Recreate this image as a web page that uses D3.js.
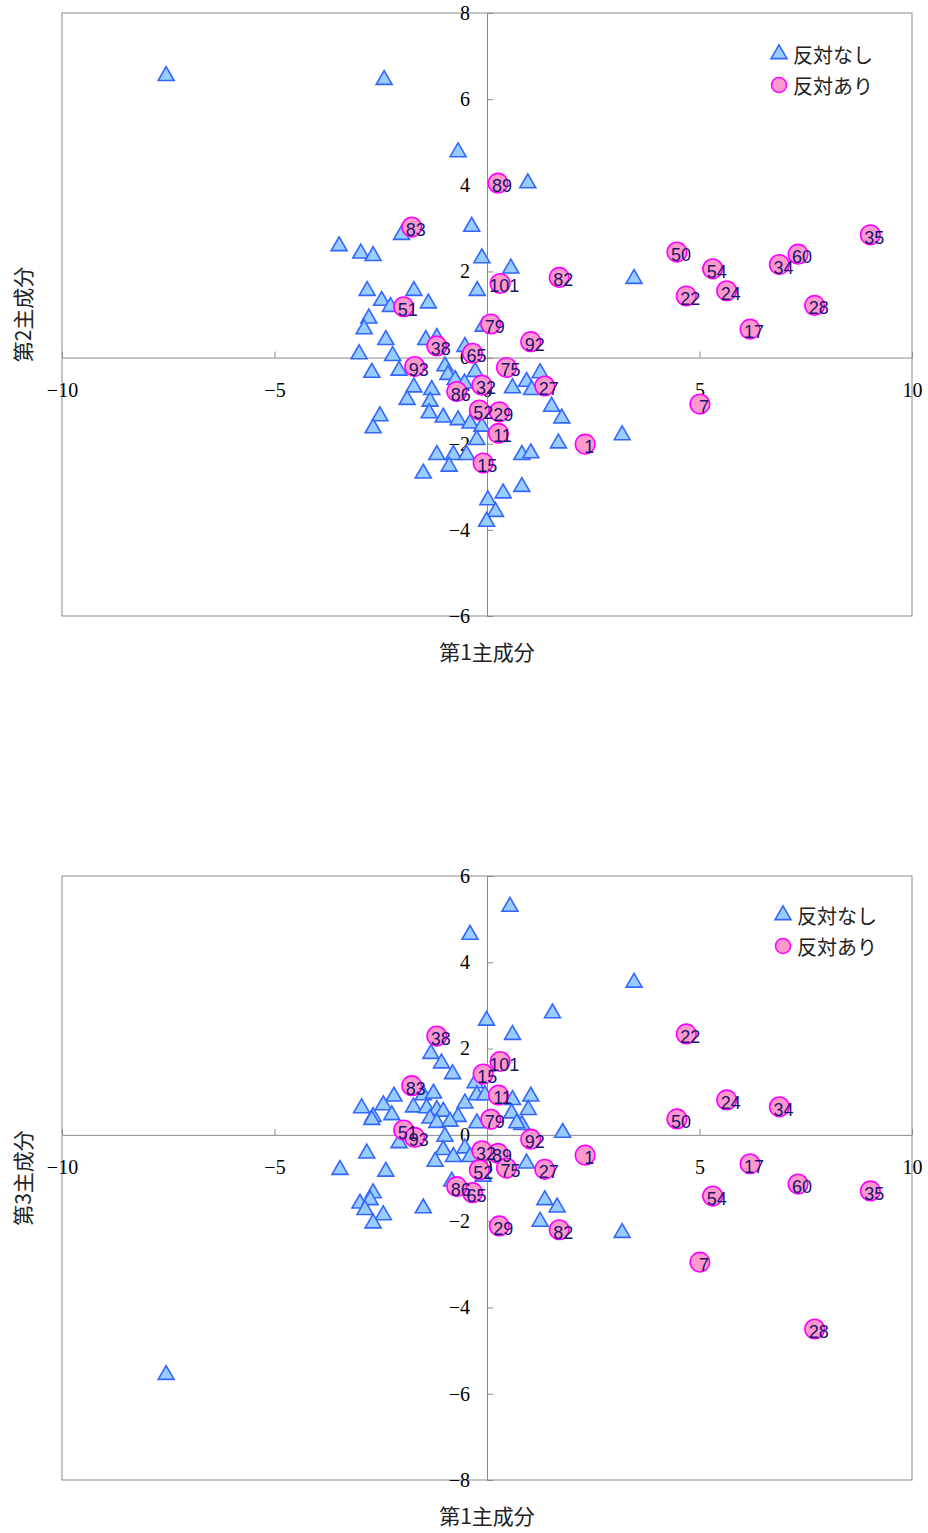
<!DOCTYPE html>
<html>
<head>
<meta charset="utf-8">
<script src="https://cdn.jsdelivr.net/npm/d3@7"></script>
<style>
  body { margin: 0; background: #fff; }
  .tick text { font-family: "Liberation Serif", "DejaVu Serif", serif; font-size: 20px; fill: #000; }
  .title { font-family: "Noto Sans CJK JP", sans-serif; font-size: 21px; fill: #222; }
  .lab { font-family: "Liberation Sans", "Noto Sans", sans-serif; font-size: 18px; fill: #15156e; }
  .leg { font-family: "Noto Sans CJK JP", sans-serif; font-size: 20px; fill: #222; }
</style>
</head>
<body>
<div id="chart"></div>
<script>
// circle points (反対あり), labelled
const ids = ["89","83","101","82","51","79","92","38","65","93","75","27","32","86","52","29","11","15","1","50","54","22","24","34","60","35","28","17","7"];
const pc1 = [0.26,-1.77,0.31,1.70,-1.96,0.09,1.03,-1.18,-0.34,-1.70,0.46,1.36,-0.12,-0.71,-0.18,0.29,0.27,-0.09,2.31,4.47,5.31,4.69,5.64,6.88,7.32,9.02,7.71,6.19,5.01];
const pc2 = [4.05,3.03,1.72,1.86,1.18,0.78,0.37,0.27,0.10,-0.21,-0.23,-0.66,-0.64,-0.79,-1.22,-1.26,-1.76,-2.45,-2.01,2.45,2.06,1.43,1.55,2.16,2.40,2.85,1.21,0.66,-1.08];
const pc3 = [-0.43,1.14,1.70,-2.20,0.11,0.36,-0.10,2.29,-1.34,-0.06,-0.77,-0.80,-0.37,-1.20,-0.81,-2.11,0.92,1.41,-0.47,0.37,-1.42,2.34,0.81,0.65,-1.14,-1.30,-4.50,-0.67,-2.95];

// triangle points (反対なし), PC1 vs PC2
const triX12 = [-7.55,-2.42,-0.68,0.96,3.46,-0.36,-2.01,-3.48,-2.97,-2.68,-0.12,0.56,-2.82,-1.72,-0.23,-2.48,-2.27,-1.38,-2.78,-2.89,-2.38,-1.44,-1.18,-0.52,-0.09,-3.01,-2.22,-2.71,-2.07,-0.99,-0.92,-0.75,-0.28,-1.72,-1.30,-1.88,-1.34,-0.53,0.60,0.93,1.25,1.05,-1.36,-1.03,-0.68,-0.40,-0.12,-2.52,-2.68,-0.24,1.52,1.76,1.68,-1.18,-0.79,-0.89,-0.48,-1.50,0.82,1.03,0.38,0.82,0.02,0.20,-0.01,3.18];
const triY12 = [6.54,6.45,4.77,4.05,1.83,3.04,2.85,2.59,2.42,2.36,2.31,2.07,1.55,1.55,1.55,1.32,1.18,1.26,0.91,0.66,0.41,0.41,0.46,0.25,0.72,0.08,0.04,-0.35,-0.30,-0.20,-0.40,-0.52,-0.33,-0.69,-0.75,-0.98,-1.02,-0.60,-0.71,-0.56,-0.36,-0.75,-1.29,-1.39,-1.45,-1.53,-1.60,-1.36,-1.64,-1.91,-1.14,-1.41,-1.99,-2.26,-2.26,-2.53,-2.26,-2.69,-2.26,-2.22,-3.15,-3.00,-3.31,-3.58,-3.81,-1.80];

// triangle points (反対なし), PC1 vs PC3
const triX13 = [-7.55,0.54,-0.40,3.46,1.54,-0.01,0.60,-1.32,-1.07,-0.81,-0.28,-2.19,-1.50,-1.26,-2.95,-2.44,-2.68,-2.24,-1.73,-1.42,-1.18,-1.03,-1.34,-0.52,-0.68,-0.24,-0.05,-0.24,0.60,1.03,0.97,0.58,0.82,1.78,-0.99,-2.71,-1.18,-0.87,0.70,-2.07,-1.03,-0.79,-0.52,-0.40,-1.22,-2.83,-3.46,-2.38,0.93,-0.83,-1.50,-2.99,-2.68,-2.75,-2.87,-2.44,-2.68,1.36,1.65,1.25,-0.09,3.18];
const triY13 = [-5.56,5.29,4.64,3.53,2.82,2.65,2.32,1.88,1.66,1.41,1.20,0.89,0.92,0.96,0.62,0.69,0.42,0.46,0.64,0.62,0.58,0.54,0.38,0.73,0.42,0.92,0.92,0.27,0.81,0.89,0.58,0.50,0.23,0.05,-0.04,0.35,0.28,0.31,0.27,-0.19,-0.35,-0.51,-0.31,-0.51,-0.62,-0.43,-0.81,-0.85,-0.66,-1.08,-1.70,-1.59,-1.35,-1.51,-1.74,-1.86,-2.05,-1.51,-1.68,-2.01,-0.97,-2.27];

const xTicks = [-10,-5,0,5,10];
const yTicks12 = [-6,-4,-2,0,2,4,6,8];
const yTicks13 = [-8,-6,-4,-2,0,2,4,6];
const legendNames = ["反対なし","反対あり"];

const svg = d3.select("#chart").append("svg")
    .attr("width", 928)
    .attr("height", 1533);

const gray = "#8a8a8a";
const tri = d3.symbol().type(d3.symbolTriangle).size(110);

function fmt(d) { return d < 0 ? "\u2212" + Math.abs(d) : "" + d; }

function drawPanel(p) {
    let x = d3.scaleLinear().domain([-10, 10]).range([62, 912]);
    let y = d3.scaleLinear().domain(d3.extent(p.yTicks)).range([p.bottom, p.top]);

    let g = svg.append("g");

    g.append("rect")
        .attr("x", 62).attr("y", p.top)
        .attr("width", 850).attr("height", p.bottom - p.top)
        .attr("fill", "none").attr("stroke", gray).attr("stroke-width", 1);

    let xa = g.append("g")
        .attr("transform", `translate(0,${y(0)})`)
        .call(d3.axisBottom(x).tickValues(xTicks).tickFormat(fmt).tickSize(-6).tickSizeOuter(0).tickPadding(25));
    let ya = g.append("g")
        .attr("transform", `translate(${x(0)},0)`)
        .call(d3.axisLeft(y).tickValues(p.yTicks).tickFormat(fmt).tickSize(-6).tickSizeOuter(0).tickPadding(17));
    [xa, ya].forEach(a => {
        a.selectAll("path, line").attr("stroke", gray);
        a.attr("font-family", null).attr("font-size", null);
    });

    // titles
    g.append("text").attr("class", "title")
        .attr("x", 487).attr("y", p.xTitleY)
        .attr("text-anchor", "middle").attr("dominant-baseline", "central")
        .text("第1主成分");
    g.append("text").attr("class", "title")
        .attr("transform", `translate(22,${(p.top + p.bottom) / 2}) rotate(-90)`)
        .attr("text-anchor", "middle").attr("dominant-baseline", "central")
        .text(p.yTitle);

    // triangles
    g.append("g").selectAll("path")
        .data(p.triX.map((v, i) => [v, p.triY[i]]))
        .enter().append("path")
        .attr("d", tri)
        .attr("transform", d => `translate(${x(d[0])},${y(d[1])})`)
        .attr("fill", "#99ccff").attr("stroke", "#3366ff").attr("stroke-width", 1.6);

    let pts = ids.map((id, i) => ({ id: id, a: pc1[i], b: p.ys[i] }));

    g.append("g").selectAll("circle")
        .data(pts)
        .enter().append("circle")
        .attr("cx", d => x(d.a)).attr("cy", d => y(d.b))
        .attr("r", 9.8)
        .attr("fill", "#ff99cc").attr("stroke", "#ff00ff").attr("stroke-width", 1.6);

    g.append("g").selectAll("text")
        .data(pts)
        .enter().append("text")
        .attr("class", "lab")
        .attr("x", d => x(d.a) + 4).attr("y", d => y(d.b) + 3)
        .attr("text-anchor", "middle").attr("dominant-baseline", "central")
        .text(d => d.id);

    // legend
    let lg = g.append("g").attr("transform", `translate(${p.legX},${p.legY})`);
    lg.append("path").attr("d", tri)
        .attr("fill", "#99ccff").attr("stroke", "#3366ff").attr("stroke-width", 1.6);
    lg.append("circle").attr("cx", 0).attr("cy", 31).attr("r", 7.5)
        .attr("fill", "#ff99cc").attr("stroke", "#ff00ff").attr("stroke-width", 1.6);
    lg.selectAll("text.leg")
        .data(legendNames)
        .enter().append("text")
        .attr("class", "leg")
        .attr("x", 14).attr("y", (d, i) => i * 31)
        .attr("dominant-baseline", "central")
        .text(d => d);
}

drawPanel({ top: 13, bottom: 616, yTicks: yTicks12, ys: pc2, triX: triX12, triY: triY12,
    yTitle: "第2主成分", xTitleY: 651, legX: 779, legY: 54 });
drawPanel({ top: 876, bottom: 1480, yTicks: yTicks13, ys: pc3, triX: triX13, triY: triY13,
    yTitle: "第3主成分", xTitleY: 1515, legX: 783, legY: 915 });
</script>
</body>
</html>
